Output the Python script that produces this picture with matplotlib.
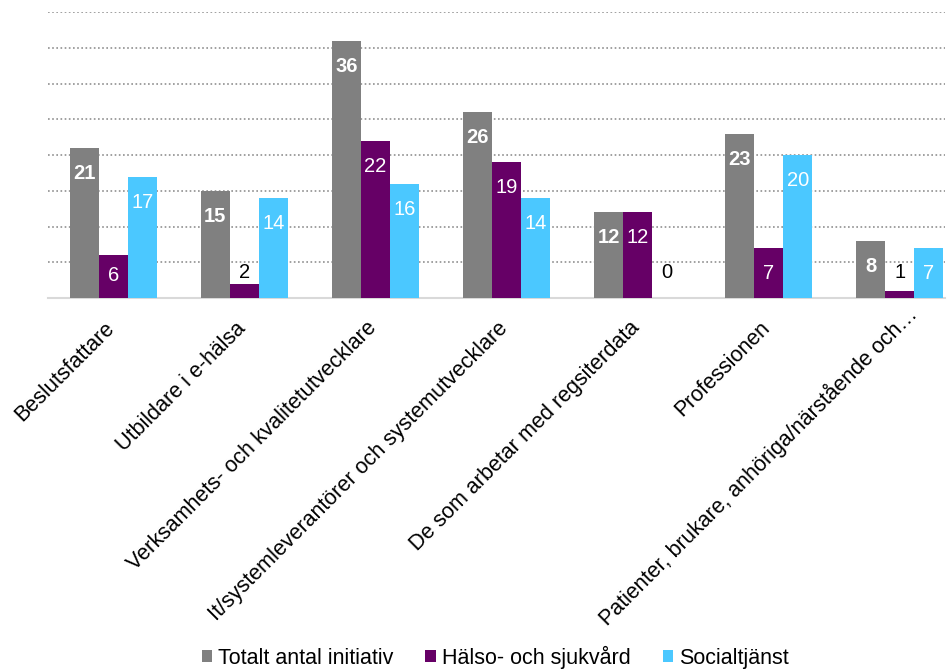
import numpy as np
import matplotlib.pyplot as plt
from matplotlib.transforms import ScaledTranslation

plt.rcParams['font.family'] = ['Liberation Sans', 'DejaVu Sans']

# Data
categories = ['Beslutsfattare', 'Utbildare i e-hälsa',
              'Verksamhets- och kvalitetutvecklare',
              'It/systemleverantörer och systemutvecklare',
              'De som arbetar med regsiterdata', 'Professionen',
              'Patienter, brukare, anhöriga/närstående och…']
totalt = [21, 15, 36, 26, 12, 23, 8]
halso = [6, 2, 22, 19, 12, 7, 1]
social = [17, 14, 16, 14, 0, 20, 7]

series_names = ['Totalt antal initiativ', 'Hälso- och sjukvård', 'Socialtjänst']
colors = ['#808080', '#660066', '#4bc8ff']

fig = plt.figure(figsize=(9.52, 6.72), dpi=100)
ax = fig.add_axes([0.05, 0.5565, 0.943, 0.4255])

x = np.arange(len(categories))
w = 0.221
for i, (vals, name, col) in enumerate(zip([totalt, halso, social], series_names, colors)):
    pos = x + (i - 1) * w
    ax.bar(pos, vals, width=w, color=col, label=name, zorder=3)
    for px, v in zip(pos, vals):
        if v >= 3:
            ax.text(px, max(v - 3.6, 3.2), str(v), ha='center', va='center',
                    color='white', fontsize=14.5,
                    fontweight='bold' if i == 0 else 'normal', zorder=4)
        else:
            ax.annotate(str(v), (px, 0), xytext=(0, 16), textcoords='offset pixels',
                        ha='center', va='bottom', color='black', fontsize=14.5, zorder=4)

ax.set_ylim(0, 40)
ax.set_xlim(-0.5, 6.347)
ax.set_yticks(np.arange(5, 41, 5))
ax.yaxis.grid(True, linestyle=(0, (1, 1.5)), color='#909090', linewidth=1.2, zorder=0)
ax.tick_params(axis='y', left=False, labelleft=False)
ax.tick_params(axis='x', length=0, pad=12)
ax.set_xticks(x)
ax.set_xticklabels(categories, rotation=45, ha='right', va='top',
                   rotation_mode='anchor', fontsize=15.5)
# nudge labels a bit left/down like the original; the truncated last one sits further out
labels = ax.get_xticklabels()
for k, lbl in enumerate(labels):
    if k == len(labels) - 1:
        shift = ScaledTranslation(6 / 100, 12 / 100, fig.dpi_scale_trans)
    else:
        shift = ScaledTranslation(-9 / 100, -3 / 100, fig.dpi_scale_trans)
    lbl.set_transform(lbl.get_transform() + shift)
for s in ['top', 'right', 'left']:
    ax.spines[s].set_visible(False)
ax.spines['bottom'].set_color('#d9d9d9')
ax.spines['bottom'].set_linewidth(1.5)

fig.legend(loc='center', bbox_to_anchor=(0.52, 0.022), ncol=3, frameon=False,
           fontsize=15.5, handlelength=0.5, handleheight=0.5, handletextpad=0.25,
           columnspacing=1.5)

fig.savefig('out.png', dpi=100)
